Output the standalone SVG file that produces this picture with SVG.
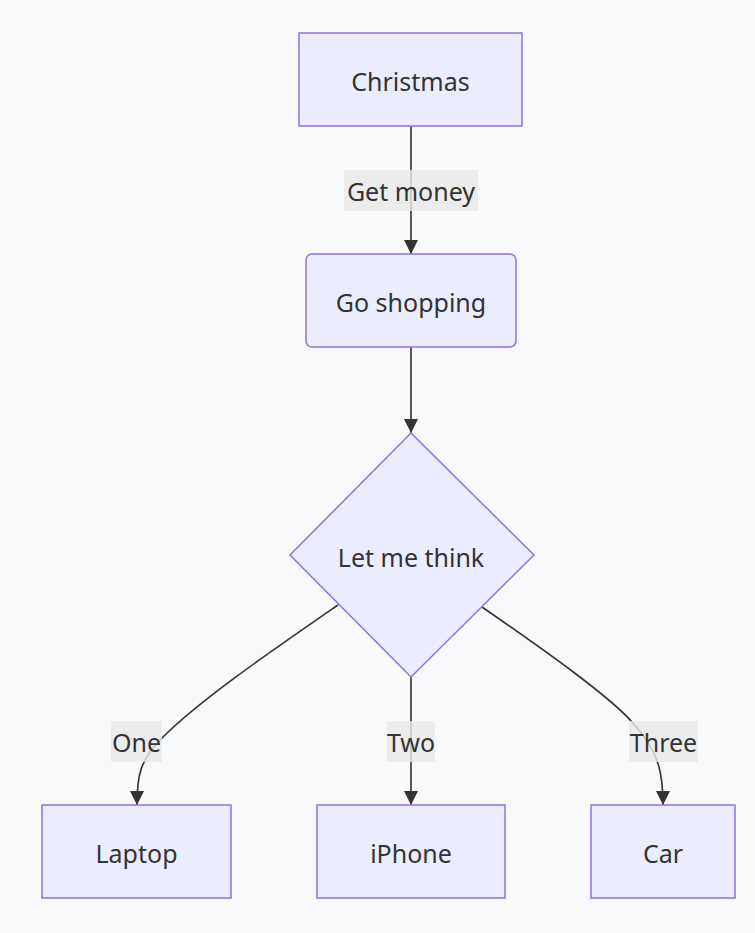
<svg xmlns="http://www.w3.org/2000/svg" width="755" height="933" viewBox="0 0 755 933">
<defs>
<style>
.node rect,.node polygon{fill:#ECECFF;stroke:#9370DB;stroke-width:1.5}
text{font-family:"Noto Sans","Open Sans","Liberation Sans",sans-serif;font-size:25px;fill:#333;text-anchor:middle;dominant-baseline:central}
.edge{fill:none;stroke:#333;stroke-width:1.6}
.lbl rect{fill:#e8e8e8;opacity:0.8}
</style>
<marker id="arr" viewBox="0 0 10 10" refX="10" refY="5" markerUnits="userSpaceOnUse" markerWidth="14" markerHeight="14" orient="auto">
<path d="M0,0 L10,5 L0,10 z" fill="#333"/>
</marker>
</defs>
<rect width="755" height="933" fill="#f8f9fa"/>
<g id="connectors">
<path class="edge" d="M411,126 L411,254" marker-end="url(#arr)"/>
<path class="edge" d="M411,347 L411,433" marker-end="url(#arr)"/>
<path class="edge" d="M338,605 C270,652 200,700 163,737 C140,760 137,775 137,805" marker-end="url(#arr)"/>
<path class="edge" d="M411,677 L411,805" marker-end="url(#arr)"/>
<path class="edge" d="M482,607 C550,654 610,697 632,722 C660,752 663,775 663,805" marker-end="url(#arr)"/>
<g class="lbl"><rect x="344" y="170" width="134" height="41"/><text x="411" y="190.5">Get money</text></g>
<g class="lbl"><rect x="111" y="721" width="51" height="41"/><text x="136.5" y="741.5">One</text></g>
<g class="lbl"><rect x="387" y="721" width="48" height="41"/><text x="411" y="741.5">Two</text></g>
<g class="lbl"><rect x="629" y="721" width="69" height="41"/><text x="663.5" y="741.5">Three</text></g>
</g>
<g id="christmas" class="node"><rect x="299" y="33" width="223" height="93"/><text x="410.5" y="81">Christmas</text></g>
<g id="shopping" class="node"><rect x="306" y="254" width="210" height="93" rx="6" ry="6"/><text x="411" y="302">Go shopping</text></g>
<g id="think" class="node"><polygon points="411,433 534,555 411,677 290,555"/><text x="411" y="557">Let me think</text></g>
<g id="laptop" class="node"><rect x="42" y="805" width="189" height="93"/><text x="136.5" y="853">Laptop</text></g>
<g id="iphone" class="node"><rect x="317" y="805" width="188" height="93"/><text x="411" y="853">iPhone</text></g>
<g id="car" class="node"><rect x="591" y="805" width="144" height="93"/><text x="663" y="853">Car</text></g>
</svg>
